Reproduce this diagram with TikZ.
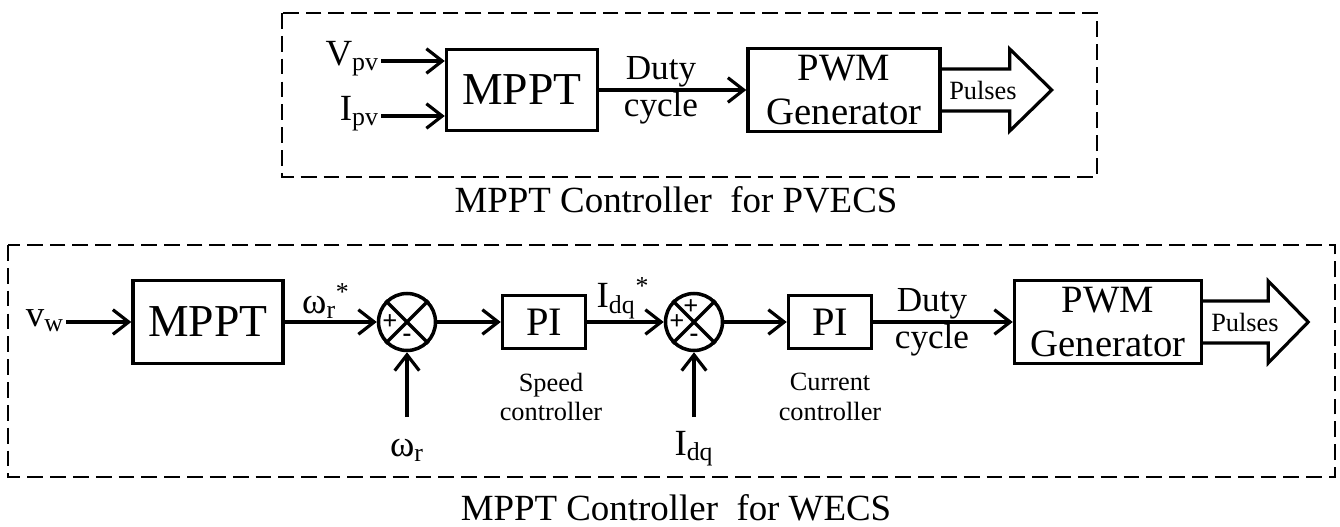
\documentclass[tikz,border=0pt]{standalone}
\usepackage{fontspec}
\setmainfont{Liberation Serif}
\usetikzlibrary{arrows.meta,positioning}

\begin{document}
\begin{tikzpicture}[x=0.02cm,y=-0.02cm,
  blk/.style={draw,line width=2pt,inner sep=0pt,align=center},
  sumnode/.style={draw,circle,line width=2pt,minimum size=1.14cm,inner sep=0pt},
  sign/.style={inner sep=0pt,font=\fontsize{15}{15}\selectfont\bfseries},
  lbl/.style={inner sep=1pt,font=\fontsize{21}{23}\selectfont},
  duty/.style={inner sep=0pt,align=center,font=\fontsize{20}{21}\selectfont},
  small/.style={inner sep=0pt,align=center,font=\fontsize{15}{17}\selectfont},
  pulse/.style={inner sep=0pt,font=\fontsize{15}{15}\selectfont},
  title/.style={inner sep=0pt,font=\fontsize{21}{21}\selectfont},
  arr/.style={line width=1.8pt,-{Straight Barb[length=9pt,width=14pt]}},
  fat/.style={line width=1.8pt,line join=miter},
  dashbox/.style={line width=1.6pt,dash pattern=on 9pt off 4pt}]
\useasboundingbox (0,0) rectangle (1340,527);

% PV side
\node[blk,minimum width=3.02cm,minimum height=1.62cm,font=\fontsize{26}{26}\selectfont] (mppt1) at (522,90) {MPPT};
\node[blk,minimum width=3.84cm,minimum height=1.66cm,font=\fontsize{22}{25}\selectfont] (pwm1) at (844,90) {PWM\\Generator};
\node[lbl,anchor=mid east] (vpv) at (381,61) {V\textsubscript{pv}};
\node[lbl,anchor=mid east] (ipv) at (381,116) {I\textsubscript{pv}};
\node[duty] (duty1) at (661,90) {Duty\\cycle};
\node[pulse] (pls1) at (983,90) {Pulses};

\draw[arr] (vpv.mid east) -- (vpv.mid east -| mppt1.west);
\draw[arr] (ipv.mid east) -- (ipv.mid east -| mppt1.west);
\draw[arr] (mppt1.east) -- (pwm1.west);
\draw[fat] (pwm1.east) +(0,-21) -- +(68,-21) -- +(68,-41) -- +(110,0) -- +(68,41) -- +(68,21) -- +(0,21);

\draw[dashbox] (282,13) rectangle (1097,177);
\node[title,anchor=base] (ttl1) at (676,213) {MPPT Controller\ \ for PVECS};

% wind side
\node[lbl,anchor=mid east] (vw) at (66,322) {v\textsubscript{w}};
\node[blk,minimum width=3cm,minimum height=1.66cm,font=\fontsize{26}{26}\selectfont] (mppt2) at (208,322) {MPPT};
\node[sumnode] (s1) at (407,322) {};
\node[blk,minimum width=1.66cm,minimum height=1.06cm,font=\fontsize{23}{23}\selectfont] (pi1) at (544,322) {PI};
\node[sumnode] (s2) at (694,322) {};
\node[blk,minimum width=1.66cm,minimum height=1.06cm,font=\fontsize{23}{23}\selectfont] (pi2) at (830,322) {PI};
\node[blk,minimum width=3.74cm,minimum height=1.66cm,font=\fontsize{22}{25}\selectfont] (pwm2) at (1108,322) {PWM\\Generator};

\draw[line width=2pt] (s1.45) -- (s1.225) (s1.135) -- (s1.315);
\draw[line width=2pt] (s2.45) -- (s2.225) (s2.135) -- (s2.315);
\path (s1) +(-17,0) node[sign] (s1p) {+} +(0,16) node[sign] (s1m) {-};
\path (s2) +(-17,0) node[sign] (s2p) {+} +(-3,-15) node[sign] (s2q) {+} +(0,16) node[sign] (s2m) {-};

\node[lbl] (wref) at (326,301) {ω\textsubscript{r}\textsuperscript{*}};
\node[lbl] (iref) at (623,298) {I\textsubscript{dq}\textsuperscript{*}};
\coordinate (wrin) at (407,417);
\coordinate (idin) at (694,417);
\node[lbl,below=0.4cm of wrin] (wr) {ω\textsubscript{r}};
\node[lbl,below=0.24cm of idin] (id) {I\textsubscript{dq}};
\node[small] (spd) at (551,397) {Speed\\controller};
\node[small] (cur) at (830,397) {Current\\controller};
\node[duty] (duty2) at (932,322) {Duty\\cycle};
\node[pulse] (pls2) at (1245,322) {Pulses};

\draw[arr] (vw.mid east) -- (mppt2.west);
\draw[arr] (mppt2.east) -- (s1.west);
\draw[arr] (s1.east) -- (pi1.west);
\draw[arr] (pi1.east) -- (s2.west);
\draw[arr] (s2.east) -- (pi2.west);
\draw[arr] (pi2.east) -- (pwm2.west);
\draw[arr] (wrin) -- (s1.south);
\draw[arr] (idin) -- (s2.south);
\draw[fat] (pwm2.east) +(0,-21) -- +(65,-21) -- +(65,-41) -- +(105,0) -- +(65,41) -- +(65,21) -- +(0,21);

\draw[dashbox] (8,245) rectangle (1335,477);
\node[title,anchor=base] (ttl2) at (676,520) {MPPT Controller\ \ for WECS};
\end{tikzpicture}
\end{document}
